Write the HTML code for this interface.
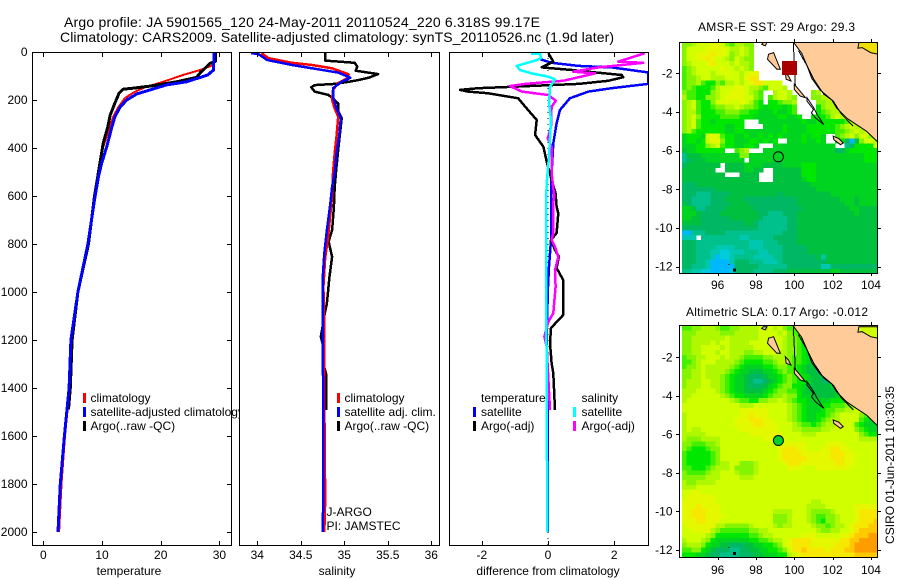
<!DOCTYPE html>
<html>
<head>
<meta charset="utf-8">
<title>Argo profile</title>
<style>
html,body{margin:0;padding:0;background:#fff;}
svg{display:block;}
text{font-family:"Liberation Sans",sans-serif;font-size:12px;fill:#000;}
.title{font-size:14px;}
</style>
</head>
<body>
<svg id="chart" xmlns="http://www.w3.org/2000/svg" width="900" height="580" viewBox="0 0 900 580">
  <defs>
    <clipPath id="clip-temp"><rect x="32" y="52" width="199" height="493"/></clipPath>
    <clipPath id="clip-sal"><rect x="239" y="52" width="200" height="493"/></clipPath>
    <clipPath id="clip-diff"><rect x="449" y="52" width="199" height="493"/></clipPath>
    <clipPath id="clip-map1"><rect x="679" y="42" width="198" height="231"/></clipPath>
    <clipPath id="clip-map2"><rect x="679" y="325" width="198" height="232"/></clipPath>
  </defs>
  <rect x="0" y="0" width="900" height="580" fill="#fff"/>
  <text class="title" x="64" y="27" textLength="476" lengthAdjust="spacing">Argo profile: JA 5901565_120 24-May-2011 20110524_220 6.318S 99.17E</text>
  <text class="title" x="60" y="42" textLength="554" lengthAdjust="spacing">Climatology: CARS2009. Satellite-adjusted climatology: synTS_20110526.nc (1.9d later)</text>

  <g id="p1"></g>
  <g>
    <rect x="83" y="393" width="3" height="10" fill="#ff0000"/>
    <rect x="83" y="407" width="3" height="10" fill="#0000ff"/>
    <rect x="83" y="421" width="3" height="10" fill="#000"/>
    <text x="90.5" y="402">climatology</text>
    <text x="90.5" y="416">satellite-adjusted climatology</text>
    <text x="90.5" y="430">Argo(..raw -QC)</text>
  </g>

  <rect x="239" y="52" width="200" height="493" fill="#fff"/>
  <g id="p2"></g>
  <g>
    <rect x="337" y="393" width="3" height="10" fill="#ff0000"/>
    <rect x="337" y="407" width="3" height="10" fill="#0000ff"/>
    <rect x="337" y="421" width="3" height="10" fill="#000"/>
    <text x="344.5" y="402">climatology</text>
    <text x="344.5" y="416">satellite adj. clim.</text>
    <text x="344.5" y="430">Argo(..raw -QC)</text>
    <text x="326.5" y="516">J-ARGO</text>
    <text x="326.5" y="530">PI: JAMSTEC</text>
  </g>

  <g id="p3"></g>
  <g>
    <text x="481" y="402">temperature</text>
    <rect x="473" y="407" width="3" height="10" fill="#0000ff"/>
    <rect x="473" y="421" width="3" height="10" fill="#000"/>
    <text x="481" y="416">satellite</text>
    <text x="481" y="430">Argo(-adj)</text>
    <text x="581.5" y="402">salinity</text>
    <rect x="573" y="407" width="3" height="10" fill="#00ffff"/>
    <rect x="573" y="421" width="3" height="10" fill="#ff00ff"/>
    <text x="581.5" y="416">satellite</text>
    <text x="581.5" y="430">Argo(-adj)</text>
  </g>

  <g id="m1"></g>
  <g id="m2"></g>

  <text x="698" y="31" textLength="157" lengthAdjust="spacing">AMSR-E SST: 29 Argo: 29.3</text>
  <text x="686" y="316" textLength="182" lengthAdjust="spacing">Altimetric SLA: 0.17 Argo: -0.012</text>
  <text transform="translate(894,465) rotate(-90)" text-anchor="middle">CSIRO 01-Jun-2011 10:30:35</text>
</svg>

<script>
// ---------- profile data ----------
const depthTicks = [0,200,400,600,800,1000,1200,1400,1600,1800,2000];
const tempTicks = [0,10,20,30];
const salTicks = [34,34.5,35,35.5,36];
const diffTicks = [-2,0,2];
const lonTicks = [96,98,100,102,104];
const latTicks = [-2,-4,-6,-8,-10,-12];

const tempClimDepth = [0,54,75,96,124,150,170,192,229,270,338,395,505,603,800,1000,1200,1400,1600,1800,2000];
const tempClimValue = [29.1,29,26.7,23.8,20.4,17,15.3,13.9,12.8,11.9,11,10.2,9.4,8.7,7.6,5.9,4.7,4.5,3.7,3.1,2.7];
const tempSatDepth = [0,75,96,124,137,158,175,200,229,270,311,395,463,519,603,800,1000,1200,1400,1600,1800,2000];
const tempSatValue = [29.1,29,28,24.4,21,18.2,15.9,14.2,13.1,12.2,11.7,10.8,9.95,9.4,8.8,7.6,5.9,4.7,4.4,3.6,2.9,2.5];
const tempArgoDepth = [0,40,47,88,106,124,142,151,155,172,213,263,311,380,463,546,603,800,1000,1200,1400,1490];
const tempArgoValue = [29.3,29.3,28.4,26.7,26.1,22.7,18.2,15.3,13.6,12.9,12.2,11.4,11,10.2,9.65,9.1,8.7,7.7,5.9,4.9,4.6,4.3];

const salClimDepth = [5,26,45,54,68,93,110,130,158,200,235,270,353,421,505,603,672,783,856,978,1158,1450,1867,2000];
const salClimValue = [34.05,34.13,34.4,34.63,34.86,35.05,35.03,34.93,34.87,34.86,34.89,34.93,34.91,34.89,34.87,34.86,34.84,34.81,34.78,34.76,34.77,34.77,34.78,34.77];
const salSatDepth = [5,8,33,54,72,86,107,124,151,186,235,276,353,422,505,561,630,742,839,950,1242,1450,1840,2000];
const salSatValue = [33.93,34.01,34.11,34.4,34.7,34.93,35.07,34.97,34.87,34.87,34.91,34.96,34.94,34.91,34.89,34.86,34.84,34.8,34.77,34.75,34.75,34.76,34.76,34.75];
const salArgoDepth = [5,36,45,61,78,92,107,117,124,133,138,147,165,179,214,247,276,339,408,478,561,645,742,790,853,936,1047,1117,1145,1186,1228,1300,1339,1492];
const salArgoValue = [34.78,34.78,35.12,35.15,35.13,35.39,35.28,35.16,35.05,34.89,34.66,34.62,34.66,34.82,34.93,34.93,34.97,34.95,34.93,34.91,34.89,34.88,34.86,34.82,34.86,34.83,34.8,34.76,34.75,34.73,34.76,34.76,34.79,34.79];

const diffTempSatDepth = [30,45,58,64,85,133,151,165,193,242,297,380,505,575,783,895,978,1171,1450,1588,2000];
const diffTempSatValue = [-0.24,0.11,0.92,1.92,3.02,3.02,1.92,1.22,0.66,0.36,0.26,0.16,0.11,0.09,0.09,0.03,0,-0.04,-0.01,-0.01,-0.01];
const diffTempArgoDepth = [5,40,64,75,85,96,105,120,133,145,151,158,165,172,193,242,283,346,395,457,533,589,645,672,754,783,825,853,900,950,1096,1150,1213,1296,1339,1492];
const diffTempArgoValue = [0.01,0.16,-0.19,0.72,1.42,2.23,2.27,1.82,0.92,-1.1,-2.1,-2.66,-2.41,-1.8,-0.9,-0.6,-0.34,-0.39,-0.14,-0.04,0.11,0.23,0.26,0.31,0.26,0.09,0.21,0.33,0.26,0.46,0.46,0.09,0.06,0.11,0.16,0.21];
const diffSalSatDepth = [8,8,26,36,58,75,89,103,114,145,214,283,436,546,645,770,1400,2000];
const diffSalSatValue = [-0.51,-0.24,-0.21,-0.39,-0.95,-0.85,-0.49,0.01,0.21,0.06,0.03,0.09,0.03,-0.04,-0.06,-0.06,-0.04,-0.02];
const diffSalArgoDepth = [5,40,45,64,82,89,120,133,142,165,179,203,228,311,360,395,505,603,624,754,783,811,855,908,978,1088,1124,1186,1228,1311,1492];
const diffSalArgoValue = [2.93,2.12,2.88,1.52,0.76,1.42,0.46,-0.69,-1.15,-0.79,0.01,0.24,0.11,0.09,-0.01,0.11,0.11,0.19,0.16,0.16,0.11,0.21,0.31,0.21,0.23,0.16,0.01,-0.11,-0.04,-0.01,0.06];

// ---------- map data: one character per grid cell, '.' = missing ----------
const sstRows = [
"889aaabba879988..........................",
"8aaaabbbba99a98..........................",
"8aabbbcbba89a98..........................",
"8aabbcbaa98a988..........................",
"89aaabcaaa9a998..........................",
"789aaaaabaa9a98..........................",
"789aaa9aabaa9abb.........................",
"7889aa999aaa9bcc.........................",
"78897668799a9abccaaaa....................",
"78766679aaabba9987aaa9...................",
"87766689aabbba987..9aa9....89............",
"97766889abbbbaa87.79aa98...8899..........",
"89a7668aabaaba976.667889....8899.........",
"89a76678899a988765666567....68999........",
"899766677888776655565567....678999.......",
"89a8666677776665555566556..66679a9.......",
"89a7665666666...55555555565566666679a....",
"89a7666665566....555565555666666789a9a...",
"897666666556655555555655556666667789a9a..",
"56665aba7665565565656555565665..789a8aa8a",
"56656abb866555665656..55565565..563048aa9",
"5556689a76655665...5555555555555..236666a",
"455666666..789...555555555555555335666666",
"24445555555588555555555555555555555555666",
"2344455555555.555555555555555555555555666",
"34444444.44445555444455556665555555555555",
"4444444..44445544..4444446665555555555555",
"444444444...4444...4444446665555555555555",
"4444444444444444...4444445665555555555555",
"33344444444444444444444444455555555555555",
"33333334444444444444444444445555555555555",
"33322233334444444444344444444445555555555",
"33222233344443333333333344444444455545555",
"43222233334444333333333344444444445545555",
"55422333344444433333333334444444444554444",
"55543333444444443322233344444444444454444",
"55443333334444443222223344444444444444444",
"44443333333334432222223344444444444444444",
"33333333333333332222223344444444444444444",
"00222333322222222222233344444444444444444",
"111.2222222211222223333344444444444444444",
"33322222222222111222333344444444444444444",
"33322221111222111222233333444444444444444",
"33322211ff1112221122233333444444444444444",
"33322210ff1222211112233333334144444444444",
"33322100001333222111233333333344444444444",
"33222100000333332222223333333113333333333",
"2211ff0000f333322223334444444445544444444"
];
const slaRows = [
"7788999877889999a9a9a8777666666666666aaaa",
"8889999988899999aaaa9a877666666666666aaaa",
"889999999a999999aaaaa9887655555555555aaaa",
"889999a9aa9999aaaaaaa9887655555555555aaaa",
"8899aaaa9a99999aaaaaa9887654444555555aaaa",
"8899aaa9aa9998899aaa99887654444555555aaaa",
"78899aaa9a9987777889998776544445555555555",
"7789aaa9999876666778998776544445555555555",
"7889a999998765555667887765443334555555555",
"8899a999987655444556787765443334555555555",
"8899a999876554333455678766544333455555555",
"8999aa99876554322345678766544333455555555",
"8999aa99876554333456788665444445555555555",
"999aaaa9876554444567887765444444555566666",
"99aaaaaa987665555678898865544444555666666",
"9aaaaaaaaa9877668899a98766555556666666aaa",
"aaaaaaaaaaaa999aaaaaaa987655566777888aaaa",
"aaaaaaaaaaaabbbbbbaaaa98765556778899aaaaa",
"9aaaaaaaaaaabbcbbbaaaa98765566789aaaa8766",
"9aaaaaaaaaabbbcccbbaaa98765567899aaaa7655",
"9aaaaaaaaaabbbbccbbbaaa987767899aaaa76555",
"9a99aaaaaaaabbbbbbbbaaa99888899aaaaa87655",
"99999aaaaaaaaabbbbbbbaaaa999aaaaaaaaa8766",
"98889999aaaaaaaaabbbbbaaaaaaaaaaaaaaa9999",
"88777889aaaaaaaaaaaaabbbbbaaaabbbbaaaaaaa",
"87666788aaaaaaaaaaaabcccbbaaabbccbbaaaaaa",
"76666678aaaaaaaaaaaabccccbbbbbbcccbbaaaaa",
"76666678aaaaaaaaaaaabcccccbbbbbcccbbaaaaa",
"7666667899aa8889aaaaabcccbbbbbbbccbbaaaaa",
"7766678999a88889aaaaaabbbaaabbbbbbbaaaaaa",
"87777899aaa98889aaaaaaaaaaaaaaaaaaaaaaaaa",
"88888999aaaa999aaaaaaaaaaaaaaaaaaaaaaaaaa",
"9889999aaaaaaaaaaaaaaaaaaaaaaaaaaaaaaaaaa",
"999aaaaaaaaaaaaaaaaaaaaaaaaaaaaaaaaaaaaaa",
"aabbaaaaaaaaaaaaaaaaaaaaaaaaaaaaaaaaaaaaa",
"abbbbbbaaaaaaaaaaaaaaaaaaaaaaaaaaaaaaaaaa",
"bbbbbbbaaaaaaaaaaaaaaaaaaaa99aaaaaaaaaaaa",
"bbbcbbbbaaaaaaaaaaaaaaaaaa9999aaaaaabbbbb",
"bbcccbbbaaaaaaaaaaa9999aaa988889aaaabcccc",
"bbcccbbbbaaaaaaaaaa8889aaa9877889aaabcccc",
"bbbccbbbaaaaaaaaaaa8889aaa9876889aaabcccd",
"abbbbbb99888889aaaa9899aaaa9887899abcccdd",
"aabbbb987777778899aaaaaaaaaa98899aabcdddd",
"aaaaa98666666677899aaaaaabbbaaaaabbcdddee",
"9aaa98655555556677899abccccbbbbbbccddeeee",
"899986554433344556678abccccbbbbbcccdeeeee",
"7788654333223344556678accdccccbcccddeeeee",
"66655433222233344555669abcccccccccccddddd"
];
const levelColors = {
  "0":"#00b8ff","f":"#00ccdc","1":"#00c8b0","2":"#00c08c","3":"#00b864","4":"#00c040","5":"#00d420",
  "6":"#00e800","7":"#44f000","8":"#84f400","9":"#b0f800","a":"#d0ff00","b":"#e4f800",
  "c":"#f6e800","d":"#ffc800","e":"#ff9c00"
};

// ---------- geography (lon, lat) ----------
const coastLon = [99.95,100.39,100.65,100.91,101.34,101.95,102.21,102.73,103.25,103.77,104.4,104.4,99.95];
const coastLat = [-0.38,-0.97,-1.57,-2.26,-2.86,-3.37,-3.8,-4.31,-4.66,-5.0,-5.6,-0.3,-0.3];
const siberutLon = [98.66,98.92,99.27,99.09,98.6];
const siberutLat = [-1.01,-0.93,-1.79,-1.79,-1.27];
const isletLon = [98.39,98.57,98.48,98.3];
const isletLat = [-0.41,-0.41,-0.58,-0.5];
const siporaLon = [99.53,99.7,99.83,99.58];
const siporaLat = [-1.97,-2.14,-2.4,-2.31];
const pagaiLon = [100,100.23,100.58,100.31,100];
const pagaiLat = [-2.57,-2.83,-3.26,-3.18,-2.83];
const engganoLon = [102.03,102.32,102.55,102.41,102.06];
const engganoLat = [-5.25,-5.37,-5.6,-5.69,-5.43];
const outlineIsleLon = [100.66,101.01,101.19,101.54,101.1,100.89,101.0,100.66];
const outlineIsleLat = [-3.26,-3.78,-4.13,-4.65,-4.3,-4.04,-3.87,-3.44];
const cornerIsleLon = [103.37,104.33,104.37,103.98,103.54,103.32];
const cornerIsleLat = [-0.41,-0.41,-1.01,-0.93,-0.67,-0.7];
const boundaryALon = [99.95,100.05];
const boundaryALat = [-0.38,-2.6];
const boundaryBLon = [100.22,100.66,101.01,101.54,102.03,102.47,103.07];
const boundaryBLat = [-0.83,-1.61,-2.3,-3.08,-3.43,-4.12,-4.73];
const argoLon = 99.17;
const argoLat = -6.318;
const dotLon = [96.89,96.6];
const dotLat = [-12.18,-11.88];
const dotSize = [3,1];

// ---------- axis functions ----------
const NS = "http://www.w3.org/2000/svg";
const depthY = d => 52 + d * 0.24;
const tempX = v => 43.3 + v * 5.87;
const salX = v => 257.3 + (v - 34) * 87;
const diffX = v => 548 + v * 33.1;
const lonX = lon => 794.3 + (lon - 100) * 19.17;
const lat1Y = lat => 73.3 + (-2 - lat) * 19.34;
const lat2Y = lat => 357.3 + (-2 - lat) * 19.27;

function mk(parent, tag, attrs, text) {
  const el = document.createElementNS(NS, tag);
  for (const k in attrs) el.setAttribute(k, attrs[k]);
  if (text !== undefined) el.textContent = text;
  parent.appendChild(el);
  return el;
}

function drawLine(parent, name, xs, ys, color, width, clip) {
  const pts = xs.map((x, i) => x.toFixed(1) + "," + ys[i].toFixed(1)).join(" ");
  const el = mk(parent, "polyline", {points: pts, fill: "none", stroke: color, "stroke-width": width,
    "stroke-linejoin": "round", "shape-rendering": "crispEdges", "clip-path": "url(#" + clip + ")"});
  
  
}

function drawProfile(parent, name, depths, values, xFn, color, width, clip) {
  drawLine(parent, name, values.map(xFn), depths.map(depthY), color, width, clip);
}

function panelFrame(parent, x0, x1, xFn, xTicks, sideTicks) {
  const frame = mk(parent, "rect", {x: x0 + 0.5, y: 52.5, width: x1 - x0, height: 493, fill: "none", stroke: "#000", "shape-rendering": "crispEdges"});
  
  
  xTicks.forEach(t => {
    const x = Math.round(xFn(t)) + 0.5;
    const top = mk(parent, "line", {x1: x, x2: x, y1: 52, y2: 57, stroke: "#000", "shape-rendering": "crispEdges"});
    
    
    const bot = mk(parent, "line", {x1: x, x2: x, y1: 541, y2: 546, stroke: "#000", "shape-rendering": "crispEdges"});
    
    
    const lab = mk(parent, "text", {x: xFn(t), y: 559, "text-anchor": "middle"}, String(t));
    
    
  });
  if (sideTicks) {
    depthTicks.forEach(d => {
      const y = Math.round(depthY(d)) + 0.5;
      const l = mk(parent, "line", {x1: x0, x2: x0 + 5, y1: y, y2: y, stroke: "#000", "shape-rendering": "crispEdges"});
      
      
      const r = mk(parent, "line", {x1: x1 - 4, x2: x1 + 1, y1: y, y2: y, stroke: "#000", "shape-rendering": "crispEdges"});
      
      
      const lab = mk(parent, "text", {x: 27.5, y: depthY(d) + 4, "text-anchor": "end"}, String(d));
      
      
    });
  }
}

// ---------- temperature ----------
const p1 = document.getElementById("p1");
drawProfile(p1, "temperature-climatology-line", tempClimDepth, tempClimValue, tempX, "#ff0000", 2, "clip-temp");
drawProfile(p1, "temperature-argo-line", tempArgoDepth, tempArgoValue, tempX, "#000", 3, "clip-temp");
drawProfile(p1, "temperature-satellite-line", tempSatDepth, tempSatValue, tempX, "#0000ff", 3, "clip-temp");
panelFrame(p1, 32, 231, tempX, tempTicks, true);
const t1 = mk(p1, "text", {x: 129, y: 575, "text-anchor": "middle"}, "temperature");



// ---------- salinity ----------
const p2 = document.getElementById("p2");
drawProfile(p2, "salinity-argo-line", salArgoDepth, salArgoValue, salX, "#000", 2.5, "clip-sal");
drawProfile(p2, "salinity-climatology-line", salClimDepth, salClimValue, salX, "#ff0000", 2.5, "clip-sal");
drawProfile(p2, "salinity-satellite-line", salSatDepth, salSatValue, salX, "#0000ff", 2.5, "clip-sal");
panelFrame(p2, 239, 439, salX, salTicks, false);
const t2 = mk(p2, "text", {x: 337, y: 575, "text-anchor": "middle"}, "salinity");



// ---------- differences ----------
const p3 = document.getElementById("p3");
const zeroLine = mk(p3, "line", {x1: diffX(0), x2: diffX(0), y1: 52, y2: 545, stroke: "#000", "stroke-dasharray": "1 5"});


drawProfile(p3, "difference-temperature-satellite-line", diffTempSatDepth, diffTempSatValue, diffX, "#0000ff", 2.5, "clip-diff");
drawProfile(p3, "difference-temperature-argo-line", diffTempArgoDepth, diffTempArgoValue, diffX, "#000", 2.5, "clip-diff");
drawProfile(p3, "difference-salinity-argo-line", diffSalArgoDepth, diffSalArgoValue, diffX, "#ff00ff", 2.5, "clip-diff");
drawProfile(p3, "difference-salinity-satellite-line", diffSalSatDepth, diffSalSatValue, diffX, "#00ffff", 2.5, "clip-diff");
panelFrame(p3, 449, 648, diffX, diffTicks, false);
const t3 = mk(p3, "text", {x: 548, y: 575, "text-anchor": "middle"}, "difference from climatology");



// ---------- maps ----------
const CELL = 0.25, GRID_LON0 = 94.13, GRID_LAT0 = -0.37;

function drawMap(group, rows, latY, clip, top, bottom, labelY) {
  rows.forEach((row, r) => {
    for (let c = 0; c < row.length; c++) {
      const col = levelColors[row[c]];
      if (!col) continue;
      const x0 = lonX(GRID_LON0 + c * CELL), x1 = lonX(GRID_LON0 + (c + 1) * CELL);
      const y0 = latY(GRID_LAT0 - r * CELL), y1 = latY(GRID_LAT0 - (r + 1) * CELL);
      const cell = mk(group, "rect", {x: x0.toFixed(1), y: y0.toFixed(1), width: (x1 - x0 + 0.3).toFixed(2), height: (y1 - y0 + 0.3).toFixed(2), fill: col, "shape-rendering": "crispEdges", "clip-path": "url(#" + clip + ")"});
      
      
    }
  });
  const poly = (name, lons, lats, fill) => {
    const pts = lons.map((lo, i) => lonX(lo).toFixed(1) + "," + latY(lats[i]).toFixed(1)).join(" ");
    const el = mk(group, "polygon", {points: pts, fill: fill, stroke: "#000", "stroke-width": 1, "clip-path": "url(#" + clip + ")"});
    
    
  };
  poly("mainland", coastLon, coastLat, "#ffcc99");
  poly("island-siberut", siberutLon, siberutLat, "#ffcc99");
  poly("islet", isletLon, isletLat, "#ffcc99");
  poly("island-sipora", siporaLon, siporaLat, "#ffcc99");
  poly("island-pagai", pagaiLon, pagaiLat, "#ffcc99");
  poly("island-enggano", engganoLon, engganoLat, "#ffcc99");
  poly("island-outline", outlineIsleLon, outlineIsleLat, "none");
  poly("corner-island", cornerIsleLon, cornerIsleLat, rows === sstRows ? "#f0e000" : "#d0ff00");
  drawLine(group, "boundary-line-a", boundaryALon.map(lonX), boundaryALat.map(latY), "#000", 1, clip);
  drawLine(group, "boundary-line-b", boundaryBLon.map(lonX), boundaryBLat.map(latY), "#000", 1, clip);
  dotLon.forEach((lo, i) => {
    const dot = mk(group, "rect", {x: lonX(lo) - dotSize[i] / 2, y: latY(dotLat[i]) - dotSize[i] / 2, width: dotSize[i], height: dotSize[i], fill: "#000", "shape-rendering": "crispEdges"});
    
    
  });
  const frame = mk(group, "rect", {x: 679.5, y: top + 0.5, width: 198, height: bottom - top, fill: "none", stroke: "#000", "shape-rendering": "crispEdges"});
  
  
  lonTicks.forEach(lo => {
    const x = Math.round(lonX(lo)) + 0.5;
    const a = mk(group, "line", {x1: x, x2: x, y1: top - 3, y2: top, stroke: "#000", "shape-rendering": "crispEdges"});
    
    
    const b = mk(group, "line", {x1: x, x2: x, y1: bottom, y2: bottom + 3, stroke: "#000", "shape-rendering": "crispEdges"});
    
    
    const lab = mk(group, "text", {x: lonX(lo), y: labelY, "text-anchor": "middle"}, String(lo));
    
    
  });
  latTicks.forEach(la => {
    const y = Math.round(latY(la)) + 0.5;
    const a = mk(group, "line", {x1: 676, x2: 679, y1: y, y2: y, stroke: "#000", "shape-rendering": "crispEdges"});
    
    
    const b = mk(group, "line", {x1: 878, x2: 881, y1: y, y2: y, stroke: "#000", "shape-rendering": "crispEdges"});
    
    
    const lab = mk(group, "text", {x: 672.5, y: latY(la) + 4, "text-anchor": "end"}, String(la));
    
    
  });
}

const m1 = document.getElementById("m1");
const m2 = document.getElementById("m2");
drawMap(m1, sstRows, lat1Y, "clip-map1", 42, 273, 289);
drawMap(m2, slaRows, lat2Y, "clip-map2", 325, 557, 574);

const sstFlag = mk(m1, "rect", {x: lonX(99.36), y: lat1Y(-1.36), width: 15, height: 14, fill: "#a80000", "shape-rendering": "crispEdges"});


const c1 = mk(m1, "circle", {cx: lonX(argoLon), cy: lat1Y(argoLat), r: 5, fill: "none", stroke: "#000"});


const c2 = mk(m2, "circle", {cx: lonX(argoLon), cy: lat2Y(argoLat), r: 5, fill: "#00d030", stroke: "#000"});


</script>
</body>
</html>
